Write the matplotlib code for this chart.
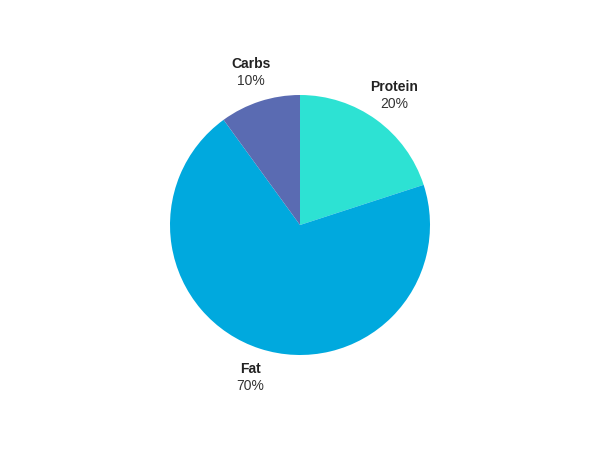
import numpy as np
import matplotlib.pyplot as plt

labels = ['Protein', 'Fat', 'Carbs']
values = [20, 70, 10]
colors = ['#2de2d3', '#00a9de', '#5a6bb2']

plt.rcParams['font.family'] = ['Liberation Sans', 'DejaVu Sans']

fig = plt.figure(figsize=(6, 4.5), dpi=100)
ax = fig.add_axes([0, 0, 1, 1])
r_px = 130
ax.set_xlim(-300 / r_px, 300 / r_px)
ax.set_ylim(-225 / r_px, 225 / r_px)
ax.axis('off')

wedges, _ = ax.pie(values, colors=colors, startangle=90, counterclock=False,
                   radius=1, wedgeprops=dict(linewidth=0))
ax.set_xlim(-300 / r_px, 300 / r_px)
ax.set_ylim(-225 / r_px, 225 / r_px)

# labels outside the slices
for w, name, v in zip(wedges, labels, values):
    mid = np.deg2rad((w.theta1 + w.theta2) / 2)
    x, y = 1.23 * np.cos(mid), 1.23 * np.sin(mid)
    ax.text(x, y + 0.065, name, ha='center', va='center', fontsize=10,
            fontweight='bold', color='#222222')
    ax.text(x, y - 0.065, f'{v}%', ha='center', va='center', fontsize=10,
            color='#333333')

fig.savefig('out.png', dpi=100)
